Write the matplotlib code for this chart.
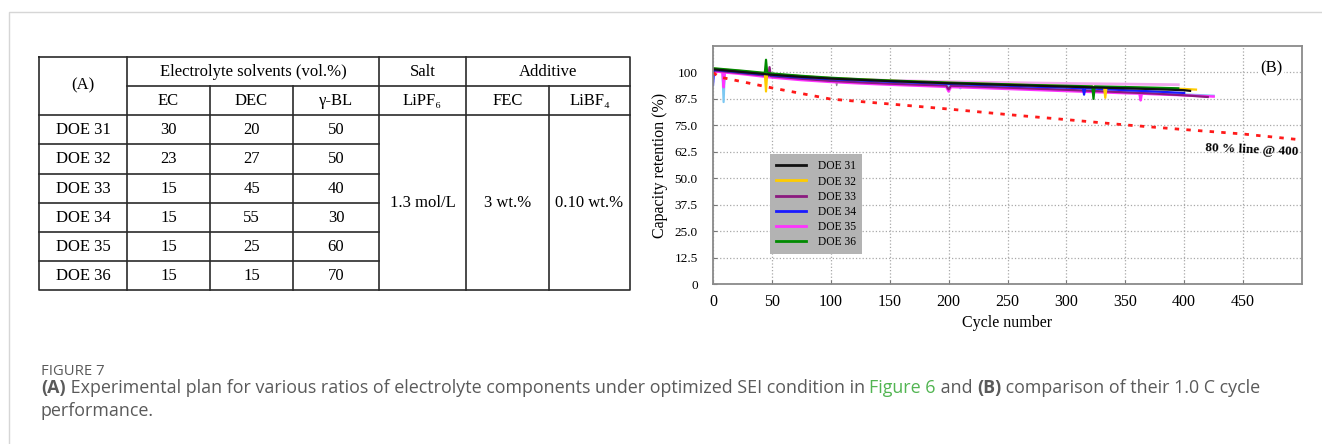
import matplotlib
matplotlib.use('Agg')
import matplotlib.pyplot as plt

plt.rcParams['font.family'] = ['Liberation Serif', 'DejaVu Serif']

# ---------------- table (A) ----------------
doe_names = ['DOE 31', 'DOE 32', 'DOE 33', 'DOE 34', 'DOE 35', 'DOE 36']
ec_vol = [30, 23, 15, 15, 15, 15]
dec_vol = [20, 27, 45, 55, 25, 15]
gbl_vol = [50, 50, 40, 30, 60, 70]
group_headers = ['Electrolyte solvents (vol.%)', 'Salt', 'Additive']
sub_headers = ['EC', 'DEC', 'γ-BL', 'LiPF₆', 'FEC', 'LiBF₄']
shared_values = ['1.3 mol/L', '3 wt.%', '0.10 wt.%']

# ---------------- cycling data (B) ----------------
cyc_31 = [0, 25, 50, 75, 100, 125, 150, 175, 200, 225, 250, 275, 300, 325, 350, 375, 400, 405]
ret_31 = [101.5, 100.2, 98.9, 97.9, 97.1, 96.5, 95.9, 95.4, 94.9, 94.5, 94.1, 93.7, 93.3, 92.9, 92.5, 92.1, 91.6, 91.3]

cyc_32 = [0, 25, 44, 45, 46, 50, 75, 100, 125, 150, 175, 200, 225, 250, 275, 300, 325, 332, 333, 334, 350, 375, 400, 410]
ret_32 = [101.8, 100.6, 99.5, 91.0, 99.4, 99.2, 98.2, 97.3, 96.7, 96.1, 95.6, 95.1, 94.7, 94.3, 93.9, 93.5, 93.1, 93.0, 88.0, 93.0, 92.8, 92.5, 92.2, 91.9]

cyc_33 = [0, 25, 47, 48, 49, 50, 75, 100, 125, 150, 175, 198, 200, 202, 225, 250, 275, 300, 325, 350, 375, 400, 420]
ret_33 = [101.0, 99.6, 98.4, 102.5, 98.3, 98.2, 97.0, 96.0, 95.3, 94.7, 94.2, 93.8, 92.0, 93.7, 93.3, 92.8, 92.3, 91.8, 91.2, 90.6, 90.0, 89.2, 88.4]

cyc_34 = [0, 1, 2, 25, 50, 75, 100, 125, 150, 175, 200, 210, 225, 250, 275, 300, 314, 315, 316, 325, 350, 375, 400]
ret_34 = [94.0, 101.5, 101.2, 100.0, 98.6, 97.6, 96.8, 96.2, 95.6, 95.1, 94.6, 94.4, 94.1, 93.7, 93.2, 92.8, 92.5, 89.5, 92.5, 92.3, 91.6, 91.0, 90.3]

cyc_35 = [0, 8, 9, 10, 25, 50, 75, 100, 125, 150, 175, 198, 200, 202, 225, 250, 275, 300, 325, 350, 362, 363, 364, 375, 400, 425]
ret_35 = [100.5, 100.2, 93.0, 100.0, 99.2, 97.6, 96.4, 95.5, 94.8, 94.2, 93.7, 93.2, 91.0, 93.1, 92.7, 92.2, 91.7, 91.2, 90.7, 90.2, 90.0, 86.8, 90.0, 89.7, 89.2, 88.6]

cyc_36 = [0, 25, 44, 45, 46, 50, 75, 100, 125, 150, 175, 200, 225, 250, 275, 300, 322, 323, 324, 350, 375, 395]
ret_36 = [102.0, 100.8, 99.8, 106.0, 99.8, 99.5, 98.4, 97.5, 96.8, 96.2, 95.7, 95.2, 94.8, 94.4, 94.0, 93.7, 93.4, 87.5, 93.4, 93.1, 92.8, 92.5]

# extra cells drawn behind (not in legend)
cyc_lblue = [0, 8, 9, 10, 25, 50, 100, 150, 200, 209, 210, 211, 250, 300, 350, 400, 425]
ret_lblue = [101.0, 100.8, 86.0, 100.6, 99.8, 98.0, 96.0, 94.6, 93.6, 93.4, 92.5, 93.3, 92.6, 91.6, 90.6, 89.6, 89.0]
cyc_lpink = [0, 50, 100, 150, 200, 250, 300, 350, 395]
ret_lpink = [101.0, 99.0, 97.2, 96.2, 95.6, 95.2, 94.8, 94.5, 94.2]
cyc_gray = [0, 50, 100, 104, 105, 106, 150, 200, 250, 300, 350, 390]
ret_gray = [101.3, 98.8, 96.9, 96.8, 93.8, 96.7, 95.8, 95.0, 94.4, 93.6, 92.9, 92.3]

# red reference line
cyc_ref = [0, 5, 50, 100, 150, 200, 250, 300, 350, 400, 450, 500]
ret_ref = [100.0, 97.9, 92.7, 87.4, 85.1, 82.7, 80.1, 77.7, 75.2, 73.0, 70.9, 68.1]

x_ticks = [0, 50, 100, 150, 200, 250, 300, 350, 400, 450]
y_ticks = [0, 12.5, 25.0, 37.5, 50.0, 62.5, 75.0, 87.5, 100]
y_tick_labels = ['0', '12.5', '25.0', '37.5', '50.0', '62.5', '75.0', '87.5', '100']

W, H = 1322, 444
fig = plt.figure(figsize=(W / 100, H / 100), dpi=100)

# background axes in pixel units (table, caption, frame)
bg = fig.add_axes([0, 0, 1, 1])
bg.set_xlim(0, W)
bg.set_ylim(H, 0)
bg.axis('off')

# page frame
bg.plot([9, 9, W], [H, 12, 12], color='#d6d6d6', lw=1)

# ---- table ----
col_x = [39, 127, 210, 293, 379, 466, 549, 630]
row_y = [57, 86, 115, 144.5, 174, 203, 232, 261, 290]
lc = '#2b2b2b'
lw_t = 1.2
tfs = 12
# outer box
bg.plot([col_x[0], col_x[-1], col_x[-1], col_x[0], col_x[0]],
        [row_y[0], row_y[0], row_y[-1], row_y[-1], row_y[0]], color=lc, lw=lw_t)
# full-height vertical lines
for cx in [col_x[1], col_x[4], col_x[5]]:
    bg.plot([cx, cx], [row_y[0], row_y[-1]], color=lc, lw=lw_t)
# vertical lines below group header
for cx in [col_x[2], col_x[3], col_x[6]]:
    bg.plot([cx, cx], [row_y[1], row_y[-1]], color=lc, lw=lw_t)
# horizontal lines
bg.plot([col_x[1], col_x[-1]], [row_y[1], row_y[1]], color=lc, lw=lw_t)
bg.plot([col_x[0], col_x[-1]], [row_y[2], row_y[2]], color=lc, lw=lw_t)
for ry in row_y[3:-1]:
    bg.plot([col_x[0], col_x[4]], [ry, ry], color=lc, lw=lw_t)


def cx_mid(i, j=None):
    j = i + 1 if j is None else j
    return (col_x[i] + col_x[j]) / 2


bg.text(cx_mid(0), (row_y[0] + row_y[2]) / 2 - 1, '(A)', ha='center', va='center', fontsize=tfs)
bg.text(cx_mid(1, 4), (row_y[0] + row_y[1]) / 2, group_headers[0], ha='center', va='center', fontsize=tfs)
bg.text(cx_mid(4), (row_y[0] + row_y[1]) / 2, group_headers[1], ha='center', va='center', fontsize=tfs)
bg.text(cx_mid(5, 7), (row_y[0] + row_y[1]) / 2, group_headers[2], ha='center', va='center', fontsize=tfs)
for k, h in enumerate(sub_headers):
    bg.text(cx_mid(k + 1), (row_y[1] + row_y[2]) / 2, h, ha='center', va='center', fontsize=tfs)
for r in range(len(doe_names)):
    yc = (row_y[r + 2] + row_y[r + 3]) / 2
    for k, v in enumerate([doe_names[r], ec_vol[r], dec_vol[r], gbl_vol[r]]):
        bg.text(cx_mid(k), yc, str(v), ha='center', va='center', fontsize=tfs)
for k, v in enumerate(shared_values):
    bg.text(cx_mid(k + 4), (row_y[2] + row_y[-1]) / 2, v, ha='center', va='center', fontsize=tfs)

# ---- caption ----
cap_color = '#5a5a5a'
bg.text(41, 375, 'FIGURE 7', family='Open Sans', fontsize=10.7, color=cap_color, va='baseline')


def caption_line(x, y, runs, size=12.9):
    t = None
    for s, weight, color in runs:
        if t is None:
            t = bg.text(x, y, s, family='Open Sans', fontsize=size, fontweight=weight,
                        color=color, va='baseline')
        else:
            t = bg.annotate(s, xy=(1, 0), xycoords=t, va='bottom', ha='left',
                            family='Open Sans', fontsize=size, fontweight=weight, color=color)
    return t


caption_line(41, 393, [
    ('(A)', 'bold', cap_color),
    (' Experimental plan for various ratios of electrolyte components under optimized SEI condition in ', 'normal', cap_color),
    ('Figure 6', 'normal', '#52b552'),
    (' and ', 'normal', cap_color),
    ('(B)', 'bold', cap_color),
    (' comparison of their 1.0 C cycle', 'normal', cap_color),
])
caption_line(41, 416, [('performance.', 'normal', cap_color)])

# ---- plot (B) ----
ax = fig.add_axes([713 / W, (H - 284) / H, 589 / W, 238 / H])
ax.set_xlim(0, 500)
ax.set_ylim(0, 112.5)

ax.plot(cyc_gray, ret_gray, color='#8c8c8c', lw=1.0, label='_nolegend_')
ax.plot(cyc_lpink, ret_lpink, color='#f2a6ee', lw=2.0, label='_nolegend_')
ax.plot(cyc_lblue, ret_lblue, color='#7cc8f2', lw=1.6, label='_nolegend_')

ax.plot(cyc_35, ret_35, color='#ff33ff', lw=1.8, label='DOE 35')
ax.plot(cyc_33, ret_33, color='#8b1a7f', lw=1.6, label='DOE 33')
ax.plot(cyc_34, ret_34, color='#1a1aff', lw=1.6, label='DOE 34')
ax.plot(cyc_32, ret_32, color='#ffcc00', lw=1.6, label='DOE 32')
ax.plot(cyc_36, ret_36, color='#008a00', lw=1.6, label='DOE 36')
ax.plot(cyc_31, ret_31, color='#111111', lw=1.6, label='DOE 31')

ax.plot(cyc_ref, ret_ref, color='#ff1a1a', lw=2.0, linestyle=(0, (1.6, 2.6)))

ax.text(497, 63.4, '80 % line @ 400', ha='right', va='center', fontsize=9.5,
        fontweight='bold', rotation=-2.5)
ax.text(474, 102.1, '(B)', ha='center', va='center', fontsize=12,
        bbox=dict(facecolor='white', edgecolor='none', pad=1.5))

ax.set_xticks(x_ticks)
ax.set_yticks(y_ticks)
ax.set_yticklabels(y_tick_labels)
ax.tick_params(axis='x', direction='in', length=3, pad=7, labelsize=11.5, color='#777777')
ax.tick_params(axis='y', direction='in', length=3, pad=11, labelsize=9.5, color='#777777')
ax.grid(True, linestyle=':', color='#a8a8a8', lw=0.9)
ax.set_axisbelow(True)
for sp in ax.spines.values():
    sp.set_color('#8a8a8a')
    sp.set_linewidth(1.3)

ax.set_xlabel('Cycle number', fontsize=11.5, labelpad=4)
ax.set_ylabel('Capacity retention (%)', fontsize=11.5, labelpad=5)

handles, labels = ax.get_legend_handles_labels()
order = ['DOE 31', 'DOE 32', 'DOE 33', 'DOE 34', 'DOE 35', 'DOE 36']
hl = {l: h for h, l in zip(handles, labels)}
leg = ax.legend([hl[o] for o in order], order, loc='upper left',
                bbox_to_anchor=(0.0968, 0.546), frameon=True, fancybox=False,
                facecolor='#b3b3b3', edgecolor='none', framealpha=1, fontsize=8.3,
                labelspacing=0.27, handlelength=2.6, handletextpad=1.0,
                borderpad=0.55, borderaxespad=0)
for ln in leg.get_lines():
    ln.set_linewidth(2.0)

fig.savefig('out.png', dpi=100)
